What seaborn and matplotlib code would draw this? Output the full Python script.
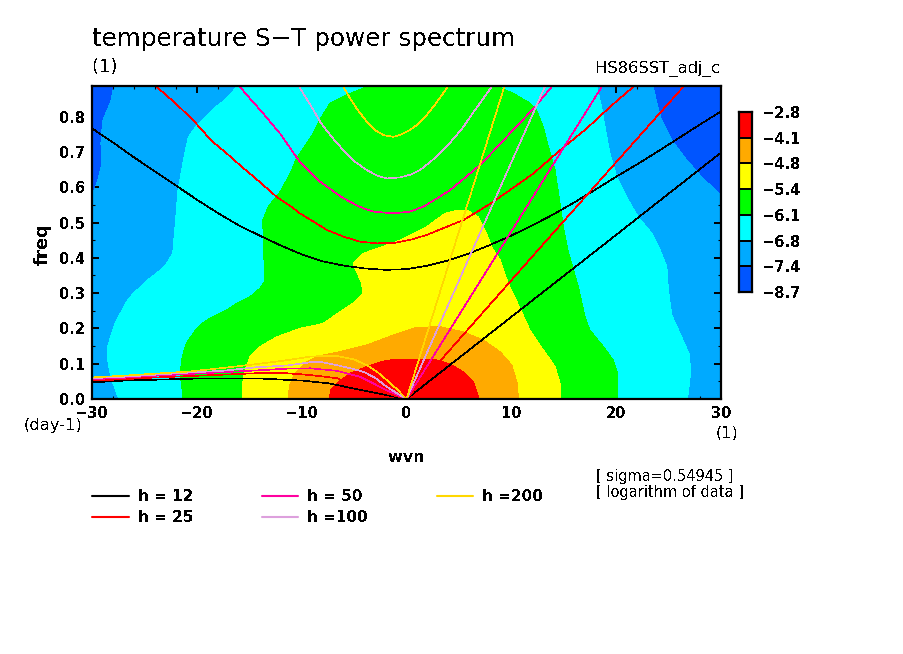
import matplotlib
matplotlib.use("Agg")
import matplotlib.pyplot as plt
from matplotlib.colors import ListedColormap
from matplotlib.lines import Line2D
from matplotlib.ticker import MultipleLocator
import numpy as np
import pandas as pd
import seaborn as sns

# ---------- filled-region outlines (wavenumber, frequency)
CORNER_L_W = [-30, -28.0, -28.3, -29.08, -29.25, -29.15, -29.56, -30]
CORNER_L_F = [.89, .89, .847, .79, .725, .669, .62, .586]
CORNER_R_W = [30, 23.6, 24.0, 24.35, 25.46, 26.74, 28.3, 30]
CORNER_R_F = [.89, .89, .838, .80, .733, .683, .63, .583]

CYAN_W = [-16.05, -17.16, -18.4, -20.0, -20.8, -21.1, -21.8, -22.1, -22.2, -22.3, -22.9, -23.5, -24.5, -25.4, -26.2,
          -26.7, -27.3, -27.8, -28.25, -28.5, -28.55, -28.35, -28.0, -27.45,
          26.8, 27.1, 27.0, 26.1, 25.3, 24.98, 24.83, 24.2, 23.4, 22.1, 21.0, 20.05, 19.4, 18.94, 18.6, 18.15]
CYAN_F = [.89, .852, .823, .776, .743, .705, .592, .479, .45, .413, .384, .365, .342, .318, .295,
          .276, .243, .214, .176, .148, .12, .082, .045, 0,
          0, .073, .125, .186, .238, .309, .375, .422, .47, .516, .573, .63, .697, .771, .828, .89]

GREEN_W = [-3.96, -5.4, -7.3, -8.1, -8.9, -10.5, -11.1, -12.07, -13.2, -13.7, -13.66, -13.5, -13.57, -13.98, -14.93,
           -16.2, -17.16, -18.75, -19.54, -20.0, -20.6, -21.0, -21.4, -21.6, -21.3,
           20.15, 20.15, 19.73, 18.8, 17.5, 17.03, 16.4, 15.76, 15.4, 14.96, 14.65, 14.17, 13.5, 13.05, 12.4, 11.6,
           10.2, 8.9]
GREEN_F = [.883, .866, .838, .80, .753, .682, .639, .587, .545, .507, .422, .356, .332, .314, .29,
           .271, .252, .229, .214, .2, .176, .158, .12, .073, 0,
           0, .073, .11, .148, .195, .233, .318, .384, .422, .488, .554, .649, .72, .771, .819, .842,
           .866, .883]

YELLOW_W = [-15.63, -15.63, -15.4, -14.93, -13.98, -12.39, -10.16, -7.94, -6.35, -4.9, -4.2, -4.27, -4.9, -5.07,
            -4.1, -1.9, -.62, 1.93, 3.67, 4.63, 5.9, 6.85, 7.65, 8.13, 8.92, 9.7, 10.83, 11.78, 13.05, 14.17,
            14.65, 14.65]
YELLOW_F = [0, .044, .082, .12, .148, .176, .2, .214, .247, .276, .299, .328, .37, .384,
            .413, .436, .45, .488, .526, .533, .533, .516, .469, .43, .394, .328, .257, .195, .139, .092,
            .044, 0]

ORANGE_W = [-11.28, -11.18, -10.64, -9.52, -8.25, -6.35, -3.8, -.62, .97, 3.2, 5.42, 7.33, 8.92, 10.04, 10.57, 10.67]
ORANGE_F = [0, .035, .073, .106, .123, .134, .153, .188, .203, .205, .19, .167, .134, .096, .044, 0]

RED_W = [-7.37, -7.23, -6.66, -5.39, -3.8, -1.89, .33, 2.56, 4.15, 5.42, 6.37, 6.92]
RED_F = [0, .025, .044, .073, .092, .11, .113, .113, .099, .077, .049, 0]

# ---------- dispersion curves
G12_W = [-30, -28, -26, -24, -22, -20, -18, -16, -14, -12, -10, -8, -6, -4, -2, 0, 2, 4, 6, 8, 10, 12, 14, 16, 18,
         20, 22, 24, 26, 28, 30]
G12_F = [.767, .727, .685, .645, .605, .565, .527, .492, .463, .435, .41, .39, .378, .37, .366, .368, .378, .393,
         .413, .437, .463, .492, .523, .557, .593, .63, .665, .702, .74, .778, .815]
G25_W = [-23.85, -22, -20.35, -18.6, -17, -15.9, -14, -12.4, -11, -10.16, -9, -7.6, -6, -4.44, -2.84, -1, .5, 1.93,
         3.5, 5.42, 7, 8.28, 10, 12.1, 14.65, 17.2, 19.5, 21.64]
G25_F = [.885, .837, .79, .732, .692, .663, .615, .573, .545, .526, .505, .479, .46, .446, .441, .443, .452, .465,
         .484, .507, .535, .559, .595, .639, .705, .767, .83, .885]
G50_W = [-15.9, -14.8, -13.66, -12, -10.3, -9.2, -8.25, -7, -6.03, -4.5, -3.17, -1.26, .33, 1.6, 3, 4.15, 5.5, 7.0,
         8.3, 9.56, 11, 12.26, 13.86]
G50_F = [.885, .847, .809, .75, .677, .642, .616, .589, .569, .545, .531, .526, .531, .545, .57, .592, .625, .663,
         .703, .743, .788, .828, .885]
G100_W = [-10.23, -9.85, -9, -8.25, -7.2, -6.03, -5, -3.8, -2.8, -1.89, -.62, .4, 1.29, 2.4, 3.5, 4.5, 5.42, 6.2,
          7.0, 8.13]
G100_F = [.885, .866, .825, .786, .745, .705, .674, .649, .633, .625, .628, .636, .649, .675, .705, .738, .771, .805,
          .838, .885]
G200_W = [-6.03, -5.4, -4.75, -3.9, -3, -2.2, -1.26, -.62, .2, .97, 1.8, 2.56, 3.3, 3.93]
G200_F = [.885, .853, .823, .79, .762, .748, .743, .748, .76, .776, .80, .828, .858, .885]

K12_W = [0, 10.83, 18.15, 29.9]
K12_F = [0, .252, .422, .696]
K25_W = [0, 13.38, 26.41]
K25_F = [0, .45, .885]
K50_W = [0, 18.63]
K50_F = [0, .885]
K100_W = [0, 13.2]
K100_F = [0, .885]
K200_W = [0, 9.33]
K200_F = [0, .885]

R12_W = [-30, -27, -20.7, -14.3, -9.9, -7.3, -5.1, -1.9, 0]
R12_F = [.047, .052, .0575, .0586, .052, .044, .03, .011, 0]
R25_W = [-30, -27, -23.9, -20.7, -17.5, -14.3, -11.4, -9.2, -6.66, -4.44, -1.9, 0]
R25_F = [.052, .056, .061, .065, .069, .073, .073, .068, .059, .035, .016, 0]
R50_W = [-30, -27, -23.9, -20.7, -17.5, -14.3, -11.4, -9.2, -6.66, -4.44, -1.9, 0]
R50_F = [.056, .06, .066, .071, .076, .081, .086, .087, .08, .063, .025, 0]
R100_W = [-30, -27, -23.9, -20.7, -17.5, -14.3, -11.4, -9.2, -8, -6.66, -5.2, -4.1, -3, -1.9, -1, 0]
R100_F = [.059, .063, .069, .075, .08, .09, .095, .104, .104, .096, .086, .077, .06, .035, .018, 0]
R200_W = [-30, -27, -23.9, -20.7, -17.5, -14.3, -11.4, -9.2, -8, -6.66, -5, -3.8, -2.8, -1.9, -1, 0]
R200_F = [.061, .066, .072, .078, .088, .099, .11, .12, .122, .122, .112, .096, .077, .054, .03, 0]

LEVEL_LABELS = ["\u22122.8", "\u22124.1", "\u22124.8", "\u22125.4", "\u22126.1", "\u22126.8", "\u22127.4", "\u22128.7"]
LEVEL_COLORS = ["#FF0000", "#FFAA00", "#FFFF00", "#00FF00", "#00FFFF", "#00AAFF", "#0055FF"]
H_LABELS = ["h = 12", "h = 25", "h = 50", "h =100", "h =200"]
H_COLORS = ["#000000", "#FF0000", "#FF00A0", "#DDA0DD", "#FFD700"]

W, H = 904, 654
sns.set_theme(style="ticks")
plt.rcParams["font.family"] = ["DejaVu Sans"]
plt.rcParams["text.antialiased"] = False
plt.rcParams["text.color"] = "black"
plt.rcParams["xtick.color"] = "black"
plt.rcParams["ytick.color"] = "black"

fig = plt.figure(figsize=(W / 100, H / 100), dpi=100, facecolor="white")
ax = fig.add_axes([92 / W, 1 - 399 / H, 629 / W, 313 / H])
ax.set_facecolor(LEVEL_COLORS[5])

def region(xs, ys, color):
    ax.fill(xs, ys, color=color, lw=0, antialiased=False, zorder=1)

region(CORNER_L_W, CORNER_L_F, LEVEL_COLORS[6])
region(CORNER_R_W, CORNER_R_F, LEVEL_COLORS[6])
region(CYAN_W, CYAN_F, LEVEL_COLORS[4])
region(GREEN_W, GREEN_F, LEVEL_COLORS[3])
region(YELLOW_W, YELLOW_F, LEVEL_COLORS[2])
region(ORANGE_W, ORANGE_F, LEVEL_COLORS[1])
region(RED_W, RED_F, LEVEL_COLORS[0])

curves = [
    (G12_W, G12_F, K12_W, K12_F, R12_W, R12_F),
    (G25_W, G25_F, K25_W, K25_F, R25_W, R25_F),
    (G50_W, G50_F, K50_W, K50_F, R50_W, R50_F),
    (G100_W, G100_F, K100_W, K100_F, R100_W, R100_F),
    (G200_W, G200_F, K200_W, K200_F, R200_W, R200_F),
]
for color, c in zip(H_COLORS, curves):
    for i in (0, 2, 4):
        sns.lineplot(x=c[i], y=c[i + 1], ax=ax, color=color, sort=False, estimator=None,
                     linewidth=0.45, antialiased=False, legend=False, zorder=3)

ax.set_xlim(-30, 30)
ax.set_ylim(0, 0.887)
ax.set_xlabel("")
ax.set_ylabel("")
ax.xaxis.set_major_locator(MultipleLocator(10))
ax.xaxis.set_minor_locator(MultipleLocator(2))
ax.yaxis.set_major_locator(MultipleLocator(0.1))
ax.yaxis.set_minor_locator(MultipleLocator(0.05))
ax.tick_params(which="major", direction="in", top=True, right=True, length=5, width=1.4, labelsize=10.5, pad=5,
               color="black", labelcolor="black")
ax.tick_params(which="minor", direction="in", top=True, right=True, length=2.5, width=0.8, color="black")
ax.xaxis.set_major_formatter(plt.FuncFormatter(lambda v, p: f"{v:.0f}".replace("-", "\u2212")))
ax.yaxis.set_major_formatter(plt.FuncFormatter(lambda v, p: f"{v:.1f}"))
for lab in ax.get_xticklabels() + ax.get_yticklabels():
    lab.set_fontweight("bold")
for s in ax.spines.values():
    s.set_linewidth(1.6)
    s.set_color("black")
    s.set_zorder(5)

# colour bar
cax = fig.add_axes([739 / W, 1 - 292 / H, 13.5 / W, 180 / H])
bar = pd.DataFrame(np.arange(len(LEVEL_COLORS)).reshape(-1, 1))
sns.heatmap(bar, ax=cax, cmap=ListedColormap(LEVEL_COLORS), cbar=False, linewidths=1.2, linecolor="black",
            xticklabels=False, yticklabels=False)
for s in cax.spines.values():
    s.set_visible(True)
    s.set_linewidth(1.6)
    s.set_color("black")
cax.tick_params(left=False, bottom=False, right=False)
cax.yaxis.tick_right()
cax.set_yticks(np.arange(len(LEVEL_LABELS)))
cax.set_yticklabels(LEVEL_LABELS, rotation=0, fontsize=10.5, fontweight="bold", color="black")
cax.tick_params(axis="y", length=0, pad=7, labelright=True, labelleft=False)

def ptext(x, y, s, **kw):
    fig.text(x / W, 1 - y / H, s, va="baseline", **kw)

ptext(92, 46, "temperature S\u2212T power spectrum", fontsize=17.7)
ptext(92, 72, "(1)", fontsize=13)
ptext(720, 73, "HS86SST_adj_c", fontsize=11.8, ha="right")
ptext(24, 430, "(day-1)", fontsize=11.8)
ptext(716, 438, "(1)", fontsize=11.5)
ptext(407, 462, "wvn", fontsize=11.5, ha="center", fontweight="bold")
ptext(596, 481, "[ sigma=0.54945 ]", fontsize=10.5)
ptext(596, 497, "[ logarithm of data ]", fontsize=10.5)
fig.text(43 / W, 1 - 244 / H, "freq", fontsize=13, rotation=90, va="center", ha="center", fontweight="bold")

handles = [Line2D([], [], color=c, lw=1.5, antialiased=False) for c in H_COLORS]
fig.legend(handles, H_LABELS, ncol=3, loc="upper left", bbox_to_anchor=(92 / W, 1 - 489 / H), frameon=False,
           prop={"size": 11, "weight": "bold"}, handlelength=2.4, handletextpad=0.58, columnspacing=4.5,
           labelspacing=0.42, borderpad=0, borderaxespad=0)

fig.savefig("out.png", dpi=100)
